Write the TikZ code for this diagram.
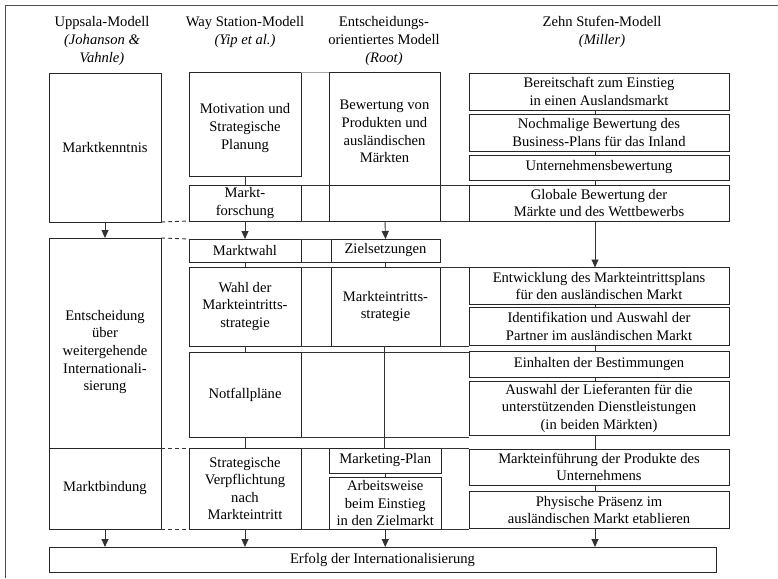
\documentclass[tikz,border=0pt]{standalone}
\usepackage{fontspec}
\setmainfont{Liberation Serif}
\usetikzlibrary{arrows.meta}
\begin{document}
\begin{tikzpicture}[x=1pt,y=-1pt,
  every node/.style={font=\fontsize{14.6}{17.6}\selectfont, align=center, inner sep=0pt, outer sep=0pt},
  every label/.style={font=\fontsize{14.6}{17.6}\selectfont, align=center, inner sep=0pt},
  box/.style={draw=black!85, line width=0.9pt, rectangle},
  rule/.style={draw=black!80, line width=0.9pt},
  faint/.style={draw=black!35, line width=0.9pt},
  flow/.style={rule, -{Triangle[width=7pt,length=8pt]}},
  sep/.style={draw=black!80, line width=0.9pt, dash pattern=on 4pt off 3pt},
  head/.style={font=\fontsize{14.6}{17.6}\selectfont},
  wide/.style={minimum width=112pt},
  root/.style={minimum width=109pt},
  stage/.style={box, minimum width=260pt},
]
\useasboundingbox (0,0) rectangle (778,578);

% outer frame
\draw[black!70, line width=0.9pt] (5,578) -- (5,5) -- (778,5);

% column headings
\node[head] (h1) at (102,41) {Uppsala-Modell\\ \textit{(Johanson \&}\\ \textit{Vahnle)}};
\node[head] (h2) at (245,32) {Way Station-Modell\\ \textit{(Yip et al.)}};
\node[head] (h3) at (384,41) {Entscheidungs-\\ orientiertes Modell\\ \textit{(Root)}};
\node[head] (h4) at (602,32) {Zehn Stufen-Modell\\ \textit{(Miller)}};

% Uppsala model
\node[box, wide, minimum height=149pt] (mk) at (105,147.5) {Marktkenntnis};
\node[box, wide, minimum height=210pt,
  label={[name=entT, yshift=-9pt]center:Entscheidung\\ über\\ weitergehende\\ Internationali-\\ sierung}] (ent) at (105,343) {};
\node[box, wide, minimum height=81pt] (mb) at (105,488.5) {Marktbindung};

% Way Station model
\node[box, wide, minimum height=104pt,
  label={[name=motT, yshift=-4pt]center:Motivation und\\ Strategische\\ Planung}] (mot) at (245,124) {};
\node[box, wide, minimum height=36pt] (mf) at (245,203) {Markt-\\ forschung};
\node[box, wide, minimum height=23pt] (mw) at (245,250.5) {Marktwahl};
\node[box, wide, minimum height=79pt] (wahl) at (245,306.5) {Wahl der\\ Markteintritts-\\ strategie};
\node[box, wide, minimum height=85pt] (notf) at (245,394.5) {Notfallpläne};
\node[box, wide, minimum height=81pt] (strat) at (245,488.5) {Strategische\\ Verpflichtung\\ nach\\ Markteintritt};

% decision-oriented model
\node[box, minimum width=111pt, minimum height=113pt,
  label={[name=bewT, yshift=-3pt]center:Bewertung von\\ Produkten und\\ ausländischen\\ Märkten}] (bew) at (384.5,128.5) {};
\node[box, minimum width=111pt, minimum height=36pt] (bewx) at (384.5,203) {};
\node[box, root, minimum height=23pt] (ziel) at (385.5,250.5) {Zielsetzungen};
\node[box, root, minimum height=79pt] (mes) at (385.5,306.5) {Markteintritts-\\ strategie};
\node[box, minimum width=111.5pt, minimum height=25pt] (mp) at (385.25,460.5) {Marketing-Plan};
\node[box, minimum width=111.5pt, minimum height=52pt] (aw) at (385.25,503) {Arbeitsweise\\ beim Einstieg\\ in den Zielmarkt};

% ten-step model
\node[stage, minimum height=37pt] (s1) at (599,91.5) {Bereitschaft zum Einstieg\\ in einen Auslandsmarkt};
\node[stage, minimum height=37pt] (s2) at (599,132.5) {Nochmalige Bewertung des\\ Business-Plans für das Inland};
\node[stage, minimum height=25pt] (s3) at (599,167.5) {Unternehmensbewertung};
\node[stage, minimum height=36pt] (s4) at (599,203) {Globale Bewertung der\\ Märkte und des Wettbewerbs};
\node[stage, minimum height=37pt] (s5) at (599,286) {Entwicklung des Markteintrittsplans\\ für den ausländischen Markt};
\node[stage, minimum height=37.5pt] (s6) at (599,326.25) {Identifikation und Auswahl der\\ Partner im ausländischen Markt};
\node[stage, minimum height=25.5pt] (s7) at (599,364.25) {Einhalten der Bestimmungen};
\node[stage, minimum height=54.5pt] (s8) at (599,408.25) {Auswahl der Lieferanten für die\\ unterstützenden Dienstleistungen\\ (in beiden Märkten)};
\node[stage, minimum height=36pt] (s9) at (599,467) {Markteinführung der Produkte des\\ Unternehmens};
\node[stage, minimum height=37pt] (s10) at (599,510) {Physische Präsenz im\\ ausländischen Markt etablieren};

% common result
\node[box, minimum width=667pt, minimum height=25pt] (erf) at (382.5,559.5) {Erfolg der Internationalisierung};

% row rules between the columns
\draw[faint] (mot.north east) -- (bew.north west);
\draw[rule] (mf.north east) -- (bewx.north west);
\draw[rule] (bewx.north east) -- (bewx.north east -| s4.west);
\draw[rule] (mf.south east) -- (bewx.south west);
\draw[rule] (bewx.south east) -- (bewx.south east -| s4.west);
\draw[rule] (mw.north east) -- (ziel.north west);
\draw[rule] (mw.south east) -- (ziel.south west);
\draw[rule] (wahl.north east) -- (mes.north west);
\draw[rule] (mes.north east) -- (mes.north east -| s5.west);
\draw[rule] (wahl.south east) -- (mes.south west);
\draw[rule] (mes.south east) -- (mes.south east -| s6.west);
\draw[rule] (notf.north east) -- (notf.north east -| s7.west);
\draw[rule] (notf.south east) -- (notf.south east -| s8.west);
\draw[rule] (strat.north east) -- (mp.north west);
\draw[rule] (mp.north east) -- (mp.north east -| s9.west);
\draw[rule] (strat.south east) -- (aw.south west);
\draw[rule] (aw.south east) -- (aw.south east -| s10.west);

% dashed links to the Uppsala phases
\draw[sep] (mk.south east) -- (mf.south west);
\draw[sep] (ent.north east) -- (mw.north west);
\draw[sep] (mb.north east) -- (strat.north west);
\draw[sep] (mb.south east) -- (strat.south west);

% Uppsala flow
\draw[flow] (mk.south) -- (ent.north);
\draw[flow] (mb.south) -- (mb.south |- erf.north);

% Way Station flow
\draw[rule] (mot.south) -- (mf.north);
\draw[flow] (mf.south) -- (mw.north);
\draw[rule] (mw.south) -- (wahl.north);
\draw[rule] (wahl.south) -- (notf.north);
\draw[rule] (notf.south) -- (strat.north);
\draw[flow] (strat.south) -- (strat.south |- erf.north);

% decision-oriented flow
\draw[flow] ([xshift=0.5pt]bewx.south) -- (ziel.north);
\draw[rule] (ziel.south) -- (mes.north);
\draw[rule] ([xshift=-1.5pt]mes.south) -- ([xshift=-1.5pt]mes.south |- mp.north);
\draw[rule] (mp.south) -- (aw.north);
\draw[flow] (aw.south) -- (aw.south |- erf.north);

% ten-step flow
\foreach \a/\b in {s1/s2, s2/s3, s3/s4, s5/s6, s6/s7, s7/s8, s8/s9, s9/s10}
  \draw[rule] ([xshift=-4pt]\a.south) -- ([xshift=-4pt]\b.north);
\draw[flow] ([xshift=-4pt]s4.south) -- ([xshift=-4pt]s5.north);
\draw[flow] ([xshift=-4pt]s10.south) -- ([xshift=-4pt]s10.south |- erf.north);
\end{tikzpicture}
\end{document}
